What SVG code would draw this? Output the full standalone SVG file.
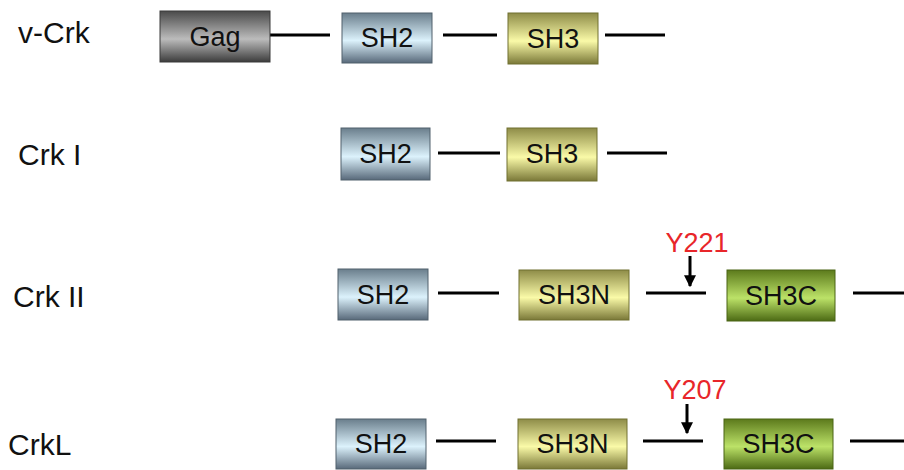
<svg xmlns="http://www.w3.org/2000/svg" width="904" height="470" viewBox="0 0 904 470">
  <defs>
    <!-- cylinder-style vertical shading for domain boxes -->
    <linearGradient id="gGag" x1="0" y1="0" x2="0" y2="1">
      <stop offset="0" stop-color="#4a4a4a"/>
      <stop offset="0.55" stop-color="#bcbcbc"/>
      <stop offset="1" stop-color="#3c3c3c"/>
    </linearGradient>
    <linearGradient id="gSH2" x1="0" y1="0" x2="0" y2="1">
      <stop offset="0" stop-color="#6a7e8c"/>
      <stop offset="0.55" stop-color="#dcf2fc"/>
      <stop offset="1" stop-color="#58697a"/>
    </linearGradient>
    <linearGradient id="gSH3" x1="0" y1="0" x2="0" y2="1">
      <stop offset="0" stop-color="#8e8c48"/>
      <stop offset="0.55" stop-color="#fafaa8"/>
      <stop offset="1" stop-color="#7a7838"/>
    </linearGradient>
    <linearGradient id="gSH3C" x1="0" y1="0" x2="0" y2="1">
      <stop offset="0" stop-color="#5c7a1c"/>
      <stop offset="0.55" stop-color="#bce268"/>
      <stop offset="1" stop-color="#4c6a14"/>
    </linearGradient>
    <marker id="arrow" viewBox="0 0 10 10" refX="9" refY="5" markerWidth="4" markerHeight="4" orient="auto" markerUnits="strokeWidth">
      <path d="M0,0 L10,5 L0,10 Z" fill="#000"/>
    </marker>
  </defs>
  <style>
    .label { font-family: "Liberation Sans", Arial, sans-serif; font-size: 30px; fill: #111; }
    .dom { font-family: "Liberation Sans", Arial, sans-serif; font-size: 27px; fill: #111; text-anchor: middle; }
    .site { font-family: "Liberation Sans", Arial, sans-serif; font-size: 27px; fill: #e8262a; text-anchor: middle; }
    .box { stroke-width: 1; }
    .gag { fill: url(#gGag); stroke: #3a3a3a; }
    .sh2 { fill: url(#gSH2); stroke: #50606c; }
    .sh3 { fill: url(#gSH3); stroke: #707030; }
    .sh3c { fill: url(#gSH3C); stroke: #4a6414; }
    .link { stroke: #000; stroke-width: 3; fill: none; }
    .ptr { stroke: #000; stroke-width: 3; fill: none; }
  </style>
  <rect width="904" height="470" fill="#fff"/>

  <!-- protein names -->
  <g id="names">
    <text class="label" x="18" y="43">v-Crk</text>
    <text class="label" x="18" y="165">Crk I</text>
    <text class="label" x="13" y="307">Crk II</text>
    <text class="label" x="8" y="455">CrkL</text>
  </g>

  <!-- linker segments between domains, plus phosphosite pointers -->
  <g id="connectors">
    <line class="link" x1="270" y1="35" x2="330" y2="35"/>
    <line class="link" x1="443" y1="35" x2="497" y2="35"/>
    <line class="link" x1="605" y1="35" x2="665" y2="35"/>

    <line class="link" x1="438" y1="153" x2="500" y2="153"/>
    <line class="link" x1="607" y1="153" x2="667" y2="153"/>

    <line class="link" x1="438" y1="293" x2="499" y2="293"/>
    <line class="link" x1="646" y1="293" x2="706" y2="293"/>
    <line class="link" x1="853" y1="293" x2="904" y2="293"/>

    <line class="link" x1="436" y1="441" x2="496" y2="441"/>
    <line class="link" x1="643" y1="441" x2="703" y2="441"/>
    <line class="link" x1="850" y1="441" x2="904" y2="441"/>

    <line class="ptr" x1="690" y1="256" x2="690" y2="286" marker-end="url(#arrow)"/>
    <line class="ptr" x1="687" y1="404" x2="687" y2="433" marker-end="url(#arrow)"/>
  </g>

  <!-- v-Crk -->
  <g id="vcrk-gag"><rect class="box gag" x="160" y="11" width="110" height="51"/><text class="dom" x="215" y="46">Gag</text></g>
  <g id="vcrk-sh2"><rect class="box sh2" x="342" y="13" width="90" height="50"/><text class="dom" x="387" y="47">SH2</text></g>
  <g id="vcrk-sh3"><rect class="box sh3" x="508" y="13" width="90" height="51"/><text class="dom" x="553" y="48">SH3</text></g>

  <!-- Crk I -->
  <g id="crk1-sh2"><rect class="box sh2" x="341" y="128" width="89" height="52"/><text class="dom" x="385.5" y="163">SH2</text></g>
  <g id="crk1-sh3"><rect class="box sh3" x="507" y="128" width="90" height="53"/><text class="dom" x="552" y="163">SH3</text></g>

  <!-- Crk II -->
  <g id="crk2-sh2"><rect class="box sh2" x="338" y="269" width="90" height="51"/><text class="dom" x="383" y="304">SH2</text></g>
  <g id="crk2-sh3n"><rect class="box sh3" x="519" y="270" width="110" height="50"/><text class="dom" x="574" y="304">SH3N</text></g>
  <g id="crk2-sh3c"><rect class="box sh3c" x="727" y="270" width="108" height="51"/><text class="dom" x="781" y="305">SH3C</text></g>
  <g id="crk2-y221"><text class="site" x="697" y="252">Y221</text></g>

  <!-- CrkL -->
  <g id="crkl-sh2"><rect class="box sh2" x="336" y="419" width="90" height="50"/><text class="dom" x="381" y="453">SH2</text></g>
  <g id="crkl-sh3n"><rect class="box sh3" x="518" y="419" width="109" height="50"/><text class="dom" x="572.5" y="453">SH3N</text></g>
  <g id="crkl-sh3c"><rect class="box sh3c" x="724" y="419" width="109" height="50"/><text class="dom" x="778.5" y="453">SH3C</text></g>
  <g id="crkl-y207"><text class="site" x="695" y="399">Y207</text></g>
</svg>
